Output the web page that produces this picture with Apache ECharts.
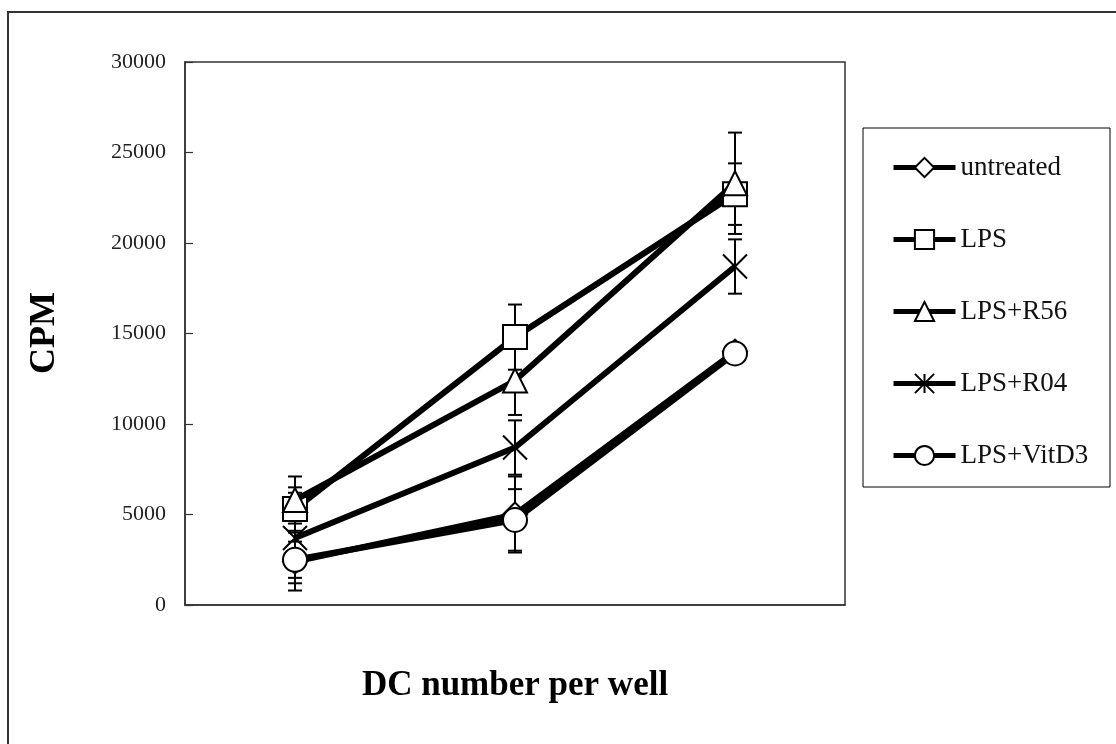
<!DOCTYPE html>
<html>
<head>
<meta charset="utf-8">
<script src="https://cdn.jsdelivr.net/npm/echarts@6/dist/echarts.min.js"></script>
<style>html,body{margin:0;padding:0;background:#fff}#c{width:1116px;height:744px}</style>
</head>
<body>
<div id="c"></div>
<script>
const categories = ['low', 'mid', 'high'];
const yTicks = [0, 5000, 10000, 15000, 20000, 25000, 30000];
const seriesNames = ['untreated', 'LPS', 'LPS+R56', 'LPS+R04', 'LPS+VitD3'];
const untreated = [2400, 5000, 14000];
const lps = [5300, 14800, 22700];
const lpsR56 = [5800, 12400, 23300];
const lpsR04 = [3700, 8700, 18700];
const lpsVitD3 = [2500, 4700, 13900];
const errUntreated = [1600, 2100, 300];
const errLps = [1200, 1800, 1700];
const errLpsR56 = [1300, 1900, 2800];
const errLpsR04 = [2500, 1500, 1500];
const errLpsVitD3 = [1000, 1700, 400];

const values = [untreated, lps, lpsR56, lpsR04, lpsVitD3];
const errors = [errUntreated, errLps, errLpsR56, errLpsR04, errLpsVitD3];
const symbols = ['diamond', 'rect', 'triangle', 'path://M0,0L20,20M20,0L0,20M10,0L10,20', 'circle'];

const errData = [];
values.forEach((arr, s) => arr.forEach((v, i) => errData.push([i, v - errors[s][i], v + errors[s][i]])));

const chart = echarts.init(document.getElementById('c'));
const lineSeries = seriesNames.map((name, s) => ({
  name: name,
  type: 'line',
  data: values[s],
  symbol: symbols[s],
  symbolSize: 24,
  showAllSymbol: true,
  color: '#000',
  lineStyle: { color: '#000', width: 6 },
  itemStyle: { color: '#fff', borderColor: '#000', borderWidth: 2 },
  z: 3 + s
}));

chart.setOption({
  animation: false,
  backgroundColor: '#fff',
  grid: { left: 185, right: 271, top: 62, bottom: 139, show: true, borderColor: '#333', borderWidth: 1.5 },
  xAxis: {
    type: 'category', data: categories, boundaryGap: true,
    axisLine: { lineStyle: { color: '#333', width: 1.5 } },
    axisTick: { inside: true, length: 12, interval: 0, lineStyle: { color: '#333', width: 1.2 } },
    axisLabel: { show: false }
  },
  yAxis: {
    type: 'value', min: yTicks[0], max: yTicks[yTicks.length - 1], interval: 5000,
    splitLine: { show: false },
    axisLine: { show: true, lineStyle: { color: '#333', width: 1.5 } },
    axisTick: { show: true, inside: true, length: 8, lineStyle: { color: '#333', width: 1.2 } },
    axisLabel: { margin: 19, fontFamily: 'Liberation Serif', fontSize: 22, color: '#222', formatter: v => String(v) }
  },
  legend: {
    orient: 'vertical', left: 886, top: 149, itemWidth: 62, itemHeight: 24, itemGap: 45,
    data: seriesNames,
    lineStyle: { color: '#000', width: 5 },
    itemStyle: { color: '#fff', borderColor: '#000', borderWidth: 2 },
    textStyle: { fontFamily: 'Liberation Serif', fontSize: 27, color: '#111', lineHeight: 25 }
  },
  graphic: [
    { type: 'rect', shape: { x: 8, y: 12, width: 1300, height: 900 }, style: { fill: 'none', stroke: '#333', lineWidth: 2 }, silent: true },
    { type: 'rect', shape: { x: 863, y: 128, width: 247, height: 359 }, style: { fill: 'none', stroke: '#000', lineWidth: 1 }, silent: true },
    { type: 'text', x: 45, y: 333, rotation: Math.PI / 2, style: { text: 'CPM', font: 'bold 36px "Liberation Serif"', fill: '#000', textAlign: 'center', textVerticalAlign: 'middle' } },
    { type: 'text', x: 515, y: 686, style: { text: 'DC number per well', font: 'bold 35px "Liberation Serif"', fill: '#000', textAlign: 'center', textVerticalAlign: 'middle' } }
  ],
  series: [{
    type: 'custom',
    data: errData,
    encode: { x: 0, y: [1, 2] },
    z: 1,
    silent: true,
    renderItem: function (params, api) {
      const lo = api.coord([api.value(0), api.value(1)]);
      const hi = api.coord([api.value(0), api.value(2)]);
      const w = 7;
      const st = { stroke: '#000', lineWidth: 2 };
      return { type: 'group', children: [
        { type: 'line', shape: { x1: lo[0], y1: lo[1], x2: hi[0], y2: hi[1] }, style: st },
        { type: 'line', shape: { x1: lo[0] - w, y1: lo[1], x2: lo[0] + w, y2: lo[1] }, style: st },
        { type: 'line', shape: { x1: hi[0] - w, y1: hi[1], x2: hi[0] + w, y2: hi[1] }, style: st }
      ] };
    }
  }].concat(lineSeries)
});
</script>
</body>
</html>
